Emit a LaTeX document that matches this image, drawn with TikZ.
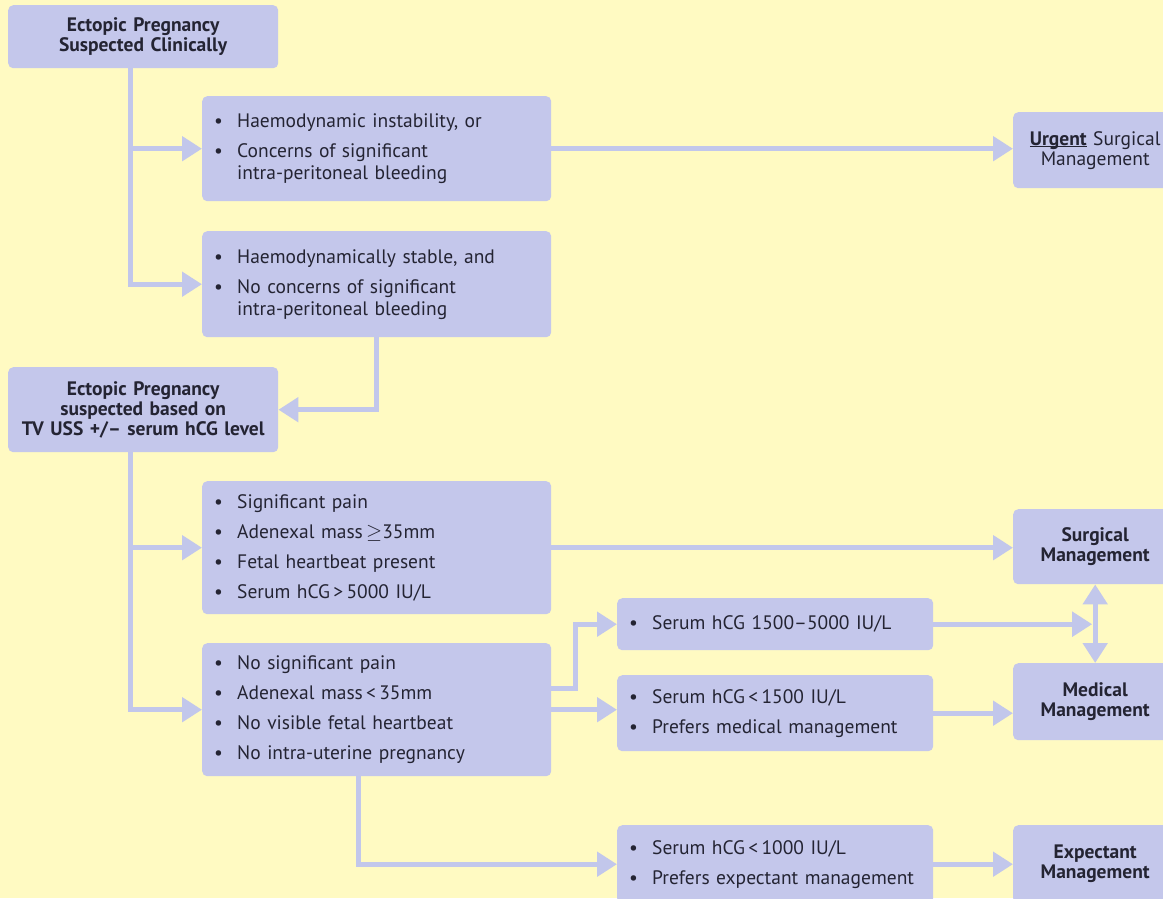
\documentclass[tikz,border=0pt]{standalone}
\usepackage{fontspec}
\setmainfont{PT Sans}
\usetikzlibrary{arrows.meta}
\definecolor{danhuang}{rgb}{1,0.98,0.76}
\definecolor{dianzi}{rgb}{0.77,0.78,0.92}
\definecolor{jiantou}{rgb}{0.76,0.78,0.92}
\definecolor{mohei}{rgb}{0.14,0.14,0.2}
\newcommand{\itm}{\makebox[23pt][l]{\textbullet}}
\newcommand{\ind}{\hspace*{23pt}}

\begin{document}
\begin{tikzpicture}[x=1pt, y=-1pt,
		box/.style={fill=dianzi, rounded corners=5pt, anchor=north west, inner xsep=12pt, inner ysep=0pt, text=mohei},
		lbox/.style={box, align=left, font=\fontsize{19.5}{22}\selectfont},
		cbox/.style={box, align=center, font=\fontsize{19.5}{20}\selectfont},
		conn/.style={draw=jiantou, line width=5pt, -{Triangle[width=24pt,length=20pt]}}]
			\useasboundingbox (0,0) rectangle (1163,898);
			\fill[danhuang] (0,0) rectangle (1163,898);
			\clip (0,0) rectangle (1163,898);
			% left column
			\node[cbox, minimum width=270pt, text width=246pt, minimum height=63pt] (start) at (8,5) {\textbf{Ectopic Pregnancy}\\\textbf{Suspected Clinically}};
			\node[cbox, minimum width=270pt, text width=246pt, minimum height=85pt] (tvuss) at (8,367) {\textbf{Ectopic Pregnancy}\\\textbf{suspected based on}\\\textbf{TV USS +/– serum hCG level}};
			% criteria
			\node[lbox, minimum width=349pt, text width=325pt, minimum height=105pt] (unstable) at (202,96) {\itm Haemodynamic instability, or\\[8pt]\itm Concerns of significant\\\ind intra-peritoneal bleeding};
			\node[lbox, minimum width=349pt, text width=325pt, minimum height=106pt] (stable) at (202,231) {\itm Haemodynamically stable, and\\[8pt]\itm No concerns of significant\\\ind intra-peritoneal bleeding};
			\node[lbox, minimum width=349pt, text width=325pt, minimum height=133pt] (sigpain) at (202,481) {\itm Significant pain\\[8pt]\itm Adenexal mass\,\ensuremath{\geq}35mm\\[8pt]\itm Fetal heartbeat present\\[8pt]\itm Serum hCG\,>\,5000 IU/L};
			\node[lbox, minimum width=349pt, text width=325pt, minimum height=133pt] (nopain) at (202,643) {\itm No significant pain\\[8pt]\itm Adenexal mass\,<\,35mm\\[8pt]\itm No visible fetal heartbeat\\[8pt]\itm No intra-uterine pregnancy};
			\node[lbox, minimum width=316pt, text width=292pt, minimum height=52pt] (midhcg) at (617,598) {\itm Serum hCG 1500–5000 IU/L};
			\node[lbox, minimum width=316pt, text width=292pt, minimum height=76pt] (lowhcg) at (617,675) {\itm Serum hCG\,<\,1500 IU/L\\[8pt]\itm Prefers medical management};
			\node[lbox, minimum width=316pt, text width=292pt, minimum height=78pt] (vlowhcg) at (617,825) {\itm Serum hCG\,<\,1000 IU/L\\[8pt]\itm Prefers expectant management};
			% management
			\node[cbox, minimum width=164pt, text width=140pt, minimum height=76pt] (urgent) at (1013,112) {\textbf{\underline{\smash{Urgent}}} Surgical\\Management};
			\node[cbox, minimum width=164pt, text width=140pt, minimum height=75pt] (surgical) at (1013,509) {\textbf{Surgical}\\\textbf{Management}};
			\node[cbox, minimum width=164pt, text width=140pt, minimum height=77pt] (medical) at (1013,663) {\textbf{Medical}\\\textbf{Management}};
			\node[cbox, minimum width=164pt, text width=140pt, minimum height=78pt] (expectant) at (1013,825) {\textbf{Expectant}\\\textbf{Management}};
			% connectors
			\draw[conn] ([xshift=-13pt]start.south) |- (unstable.west);
			\draw[conn] ([xshift=-13pt]start.south) |- (stable.west);
			\draw[conn] (unstable.east) -- (unstable.east -| urgent.west);
			\draw[conn] (stable.south) |- (tvuss.east);
			\draw[conn] ([xshift=-13pt]tvuss.south) |- (sigpain.west);
			\draw[conn] ([xshift=-13pt]tvuss.south) |- (nopain.west);
			\draw[conn] (sigpain.east) -- (sigpain.east -| surgical.west);
			\draw[conn] ([yshift=21pt]nopain.east) -- ++(24pt,0) |- (midhcg.west);
			\draw[conn] (nopain.east) -- (nopain.east -| lowhcg.west);
			\draw[conn, shorten >=3pt] (midhcg.east) -- (midhcg.east -| surgical.south);
			\draw[conn, {Triangle[width=24pt,length=20pt]}-{Triangle[width=24pt,length=20pt]}] (surgical.south) -- (medical.north);
			\draw[conn] (lowhcg.east) -- (lowhcg.east -| medical.west);
			\draw[conn] ([xshift=-18pt]nopain.south) |- (vlowhcg.west);
			\draw[conn] (vlowhcg.east) -- (vlowhcg.east -| expectant.west);
		\end{tikzpicture}
\end{document}
